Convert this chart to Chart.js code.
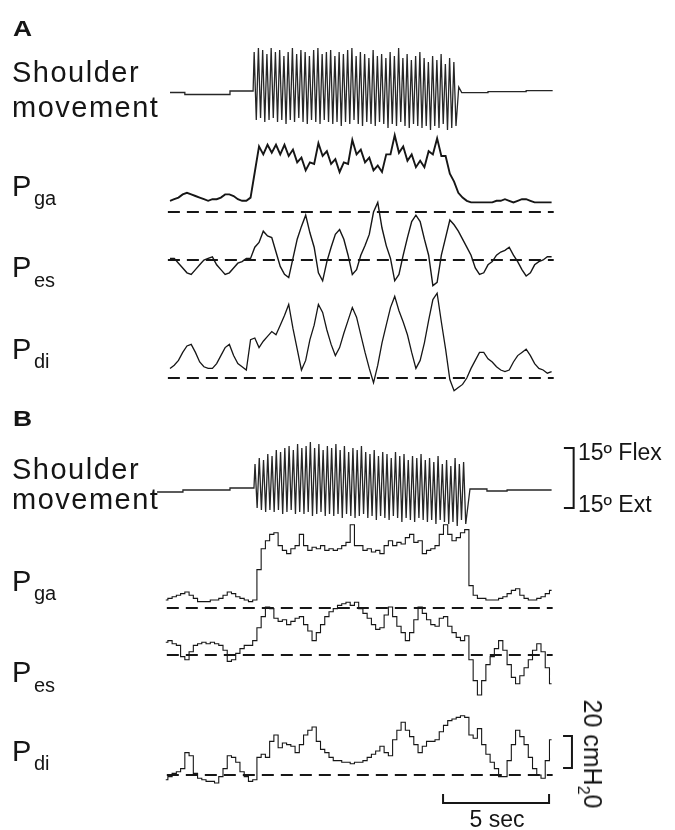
<!DOCTYPE html>
<html>
<head>
<meta charset="utf-8">
<script src="https://cdn.jsdelivr.net/npm/chart.js@4.4.1/dist/chart.umd.min.js"></script>
<style>
body { margin: 0; background: #fff; }
#wrap { position: relative; width: 675px; height: 830px; font-family: "Liberation Sans", Arial, sans-serif; color: #151515; overflow: hidden; }
canvas { position: absolute; left: 0; top: 0; }
.lbl { position: absolute; line-height: 1; white-space: nowrap; }
.big { font-size: 29px; letter-spacing: 1.5px; }
.p { font-size: 29px; }
.sub { font-size: 20px; }
.panel { font-size: 22px; font-weight: bold; transform: scaleX(1.2); transform-origin: left top; }
.cal { font-size: 23px; }
</style>
</head>
<body>
<div id="wrap">
  <canvas id="chart" width="675" height="830"></canvas>
  <div class="lbl panel" style="left:13px;top:18px">A</div>
  <div class="lbl big" style="left:12px;top:58px">Shoulder</div>
  <div class="lbl big" style="left:12px;top:93px">movement</div>
  <div class="lbl p" style="left:12px;top:172px">P</div><div class="lbl sub" style="left:34px;top:188px">ga</div>
  <div class="lbl p" style="left:12px;top:253px">P</div><div class="lbl sub" style="left:34px;top:270px">es</div>
  <div class="lbl p" style="left:12px;top:335px">P</div><div class="lbl sub" style="left:34px;top:351px">di</div>

  <div class="lbl panel" style="left:13px;top:408px">B</div>
  <div class="lbl big" style="left:12px;top:455px">Shoulder</div>
  <div class="lbl big" style="left:12px;top:485px">movement</div>
  <div class="lbl p" style="left:12px;top:567px">P</div><div class="lbl sub" style="left:34px;top:583px">ga</div>
  <div class="lbl p" style="left:12px;top:658px">P</div><div class="lbl sub" style="left:34px;top:675px">es</div>
  <div class="lbl p" style="left:12px;top:737px">P</div><div class="lbl sub" style="left:34px;top:753px">di</div>

  <div class="lbl cal" style="left:578px;top:441px">15º Flex</div>
  <div class="lbl cal" style="left:578px;top:493px">15º Ext</div>
  <div class="lbl cal" style="left:447px;top:808px;width:100px;text-align:center">5 sec</div>
  <div class="lbl" style="left:590px;top:754px;font-size:25px;transform:translate(-50%,-50%) rotate(90deg)">20 cmH<sub style="font-size:16px">2</sub>0</div>
</div>
<script>
// pressures in cmH2O, one sample every 0.2 s
const SAMPLE_S = 0.2;
const startA = 0, startB = -0.2;

const pgaA = [7,8,9,11,12,11,10,9,8,7, 8,8,9,11,11,10,8,7,7,9,
  25,41,36,42,37,42,36,42,35,39, 31,34,26,31,30,43,35,38,30,33,
  25,31,30,45,36,39,31,34,26,29, 25,36,36,48,37,41,32,36,28,32,
  28,38,36,46,35,35,24,19,12,9, 7,6,6,6,6,6,6,7,7,8,
  7,6,7,8,8,7,6,6,6,6, 6];
const pesA = [1,1,-2,-5,-8,-9,-6,-3,0,1, 2,-3,-6,-9,-8,-5,-2,-1,1,1,
  8,11,18,15,14,5,-4,-9,-11,1, 13,21,28,17,8,-8,-13,-1,8,16,
  19,13,3,-9,-6,3,9,16,30,36, 20,9,1,-13,-9,3,14,24,28,24,
  13,3,-16,-14,3,14,25,22,18,13, 8,3,-5,-9,-8,-3,-1,3,5,6,
  8,3,-1,-6,-10,-8,-3,-1,0,2, 2];
const pdiA = [6,8,11,16,20,21,16,10,7,6, 6,9,14,19,21,14,9,7,5,24,
  25,19,23,26,29,27,33,39,46,31, 18,5,11,24,33,46,41,30,21,14,
  19,28,36,44,38,27,16,6,-3,8, 22,33,44,51,42,35,27,16,6,11,
  22,36,49,53,35,18,-1,-8,-6,-4, 0,6,11,16,16,12,10,7,5,4,
  5,10,14,16,18,14,9,6,5,3, 4];

const pgaB = [5,6,7,8,9,10,8,6,4,4, 4,5,5,6,8,10,9,7,6,5,
  4,5,24,37,42,46,47,39,36,34, 37,39,46,39,36,38,37,39,36,37,
  36,37,39,41,52,39,39,36,37,35, 36,34,39,42,39,41,40,44,46,41,
  42,34,36,37,39,46,52,46,42,44, 47,49,14,8,6,6,5,5,5,6,
  7,9,11,12,8,6,5,5,6,7, 9,11];
const pesB = [8,9,7,6,-1,-3,2,6,7,8, 7,8,7,6,3,-4,-3,1,4,6,
  6,9,17,24,30,29,23,21,22,19, 21,23,24,19,15,9,14,19,24,27,
  29,31,32,33,31,33,29,26,23,19, 16,17,25,30,24,18,14,9,14,22,
  30,26,22,19,18,23,24,18,14,11, 9,12,-3,-16,-25,-16,-6,-1,4,9,
  3,-6,-14,-18,-13,-8,-3,3,7,2, -8,-18];
const pdiB = [-3,-1,1,2,4,14,12,1,-2,-3, -4,-4,-5,-1,4,12,11,8,2,-1,
  -4,-3,11,13,11,21,25,17,20,19, 18,14,19,25,28,30,21,16,14,11,
  9,9,8,8,7,8,8,9,11,13, 15,18,14,12,22,28,33,28,24,19,
  14,18,21,21,22,27,31,34,35,36, 37,36,25,23,29,19,13,8,4,-1,
  -1,9,19,28,24,19,11,4,0,-2, 9,22];

// shoulder angle in degrees (+ = flexion), one flex/ext swing per cycle
const shoulderA_onset = 3.92, shoulderA_offset = 13.54;
const shoulderA_flex = [20,22,21,19,22,20,21,18,20,22, 19,21,20,18,21,22,19,20,21,18,
  20,19,21,22,18,20,19,17,21,18, 19,17,20,18,22,17,19,16,18,20, 17,15,18,16,19,14,17,15];
const shoulderA_ext = [-14,-13,-15,-14,-13,-15,-14,-16,-14,-15, -13,-15,-16,-14,-15,-16,-14,-15,-16,-15,
  -17,-15,-16,-14,-16,-17,-15,-16,-17,-15, -16,-18,-16,-17,-15,-17,-18,-16,-17,-18, -17,-19,-17,-18,-16,-19,-18,-17];
const shoulderA_restBefore = [[0,-0.25],[0.7,-0.25],[0.7,-1.25],[2.83,-1.25],[2.83,0.5],[3.92,0.5]];
const shoulderA_restAfter = [[13.62,2.5],[13.76,-0.3],[15.0,-0.3],[15.0,0.15],[16.8,0.15],[16.8,0.65],[18.05,0.65]];

const shoulderB_onset = 3.96, shoulderB_offset = 14.0;
const shoulderB_flex = [13,16,15,18,17,20,19,21,22,20, 23,21,22,24,21,23,20,22,21,23,
  20,22,19,21,20,22,19,18,20,17, 19,18,16,19,17,18,15,17,16,18, 15,16,14,17,13,15,12,16,13,14];
const shoulderB_ext = [-9,-10,-11,-10,-11,-10,-12,-11,-10,-12, -11,-12,-11,-13,-12,-11,-13,-12,-13,-12,
  -14,-12,-13,-14,-13,-12,-14,-13,-15,-13, -14,-15,-13,-14,-16,-14,-15,-16,-14,-15, -16,-15,-17,-15,-16,-17,-16,-18,-15,-17];
const shoulderB_restBefore = [[-0.61,-1],[0.61,-1],[0.61,0],[2.83,0],[2.83,1],[3.96,1]];
const shoulderB_restAfter = [[14.15,0.5],[14.95,0.5],[14.95,-0.5],[15.9,-0.5],[15.9,0],[18.0,0]];

// calibration bars
const timeBar = { start: 12.88, length: 5 };          // s
const pressureBar = { x: 18.96, tick: 18.54, value: 20 }; // cmH2O
const angleBar = { x: 19.04, tick: 18.58, value: 30 };    // deg (15 flex to 15 ext)

// ---- layout (figure units: pixels from the top) ----
const X0_PX = 170, PX_PER_S = 21.2;
const CM = 1.6, DEG = 2;
const rows = {
  shoulderA: 92, pgaA: 212, pesA: 260, pdiA: 378,
  shoulderB: 490, pgaB: 608, pesB: 655, pdiB: 775
};
const dashA = [-0.1, 18.1], dashB = [-0.15, 18.05];

const trace = (vals, t0, base, gain) => vals.map((v, i) => ({ x: t0 + i * SAMPLE_S, y: base - v * gain }));

function shoulderTrace(before, flex, ext, onset, offset, after, base) {
  const pts = before.map(p => ({ x: p[0], y: base - p[1] * DEG }));
  const period = (offset - onset) / flex.length;
  flex.forEach((f, k) => {
    pts.push({ x: onset + (k + 0.25) * period, y: base - f * DEG });
    pts.push({ x: onset + (k + 0.75) * period, y: base - ext[k] * DEG });
  });
  after.forEach(p => pts.push({ x: p[0], y: base - p[1] * DEG }));
  return pts;
}

const ink = '#161616';
const line = (data, w, extra) => Object.assign({ data, borderColor: ink, borderWidth: w, pointRadius: 0, fill: false, tension: 0 }, extra || {});
const dash = (span, y) => line([{ x: span[0], y }, { x: span[1], y }], 2.2, { borderDash: [12, 7] });

const datasets = [
  line(shoulderTrace(shoulderA_restBefore, shoulderA_flex, shoulderA_ext, shoulderA_onset, shoulderA_offset, shoulderA_restAfter, rows.shoulderA), 1.3, { borderColor: '#262626' }),
  line(trace(pgaA, startA, rows.pgaA, CM), 1.9),
  line(trace(pesA, startA, rows.pesA, CM), 1.4),
  line(trace(pdiA, startA, rows.pdiA, CM), 1.3),
  dash(dashA, rows.pgaA), dash(dashA, rows.pesA), dash(dashA, rows.pdiA),

  line(shoulderTrace(shoulderB_restBefore, shoulderB_flex, shoulderB_ext, shoulderB_onset, shoulderB_offset, shoulderB_restAfter, rows.shoulderB), 1.3, { borderColor: '#262626' }),
  line(trace(pgaB, startB, rows.pgaB, CM), 1.1, { stepped: 'middle' }),
  line(trace(pesB, startB, rows.pesB, CM), 1.1, { stepped: 'middle' }),
  line(trace(pdiB, startB, rows.pdiB, CM), 1.1, { stepped: 'middle' }),
  dash(dashB, rows.pgaB), dash(dashB, rows.pesB), dash(dashB, rows.pdiB),

  line([{ x: timeBar.start, y: 794 }, { x: timeBar.start, y: 803 },
        { x: timeBar.start + timeBar.length, y: 803 }, { x: timeBar.start + timeBar.length, y: 794 }], 2),
  line([{ x: pressureBar.tick, y: 736 }, { x: pressureBar.x, y: 736 },
        { x: pressureBar.x, y: 736 + pressureBar.value * CM }, { x: pressureBar.tick, y: 736 + pressureBar.value * CM }], 2),
  line([{ x: angleBar.tick, y: 448 }, { x: angleBar.x, y: 448 },
        { x: angleBar.x, y: 448 + angleBar.value * DEG }, { x: angleBar.tick, y: 448 + angleBar.value * DEG }], 2)
];

new Chart(document.getElementById('chart'), {
  type: 'line',
  data: { datasets },
  options: {
    responsive: false,
    animation: false,
    devicePixelRatio: 1,
    layout: { padding: 0 },
    plugins: { legend: { display: false }, tooltip: { enabled: false } },
    scales: {
      x: { type: 'linear', display: false, min: -X0_PX / PX_PER_S, max: (675 - X0_PX) / PX_PER_S },
      y: { type: 'linear', display: false, min: 0, max: 830, reverse: true }
    }
  }
});
</script>
</body>
</html>
